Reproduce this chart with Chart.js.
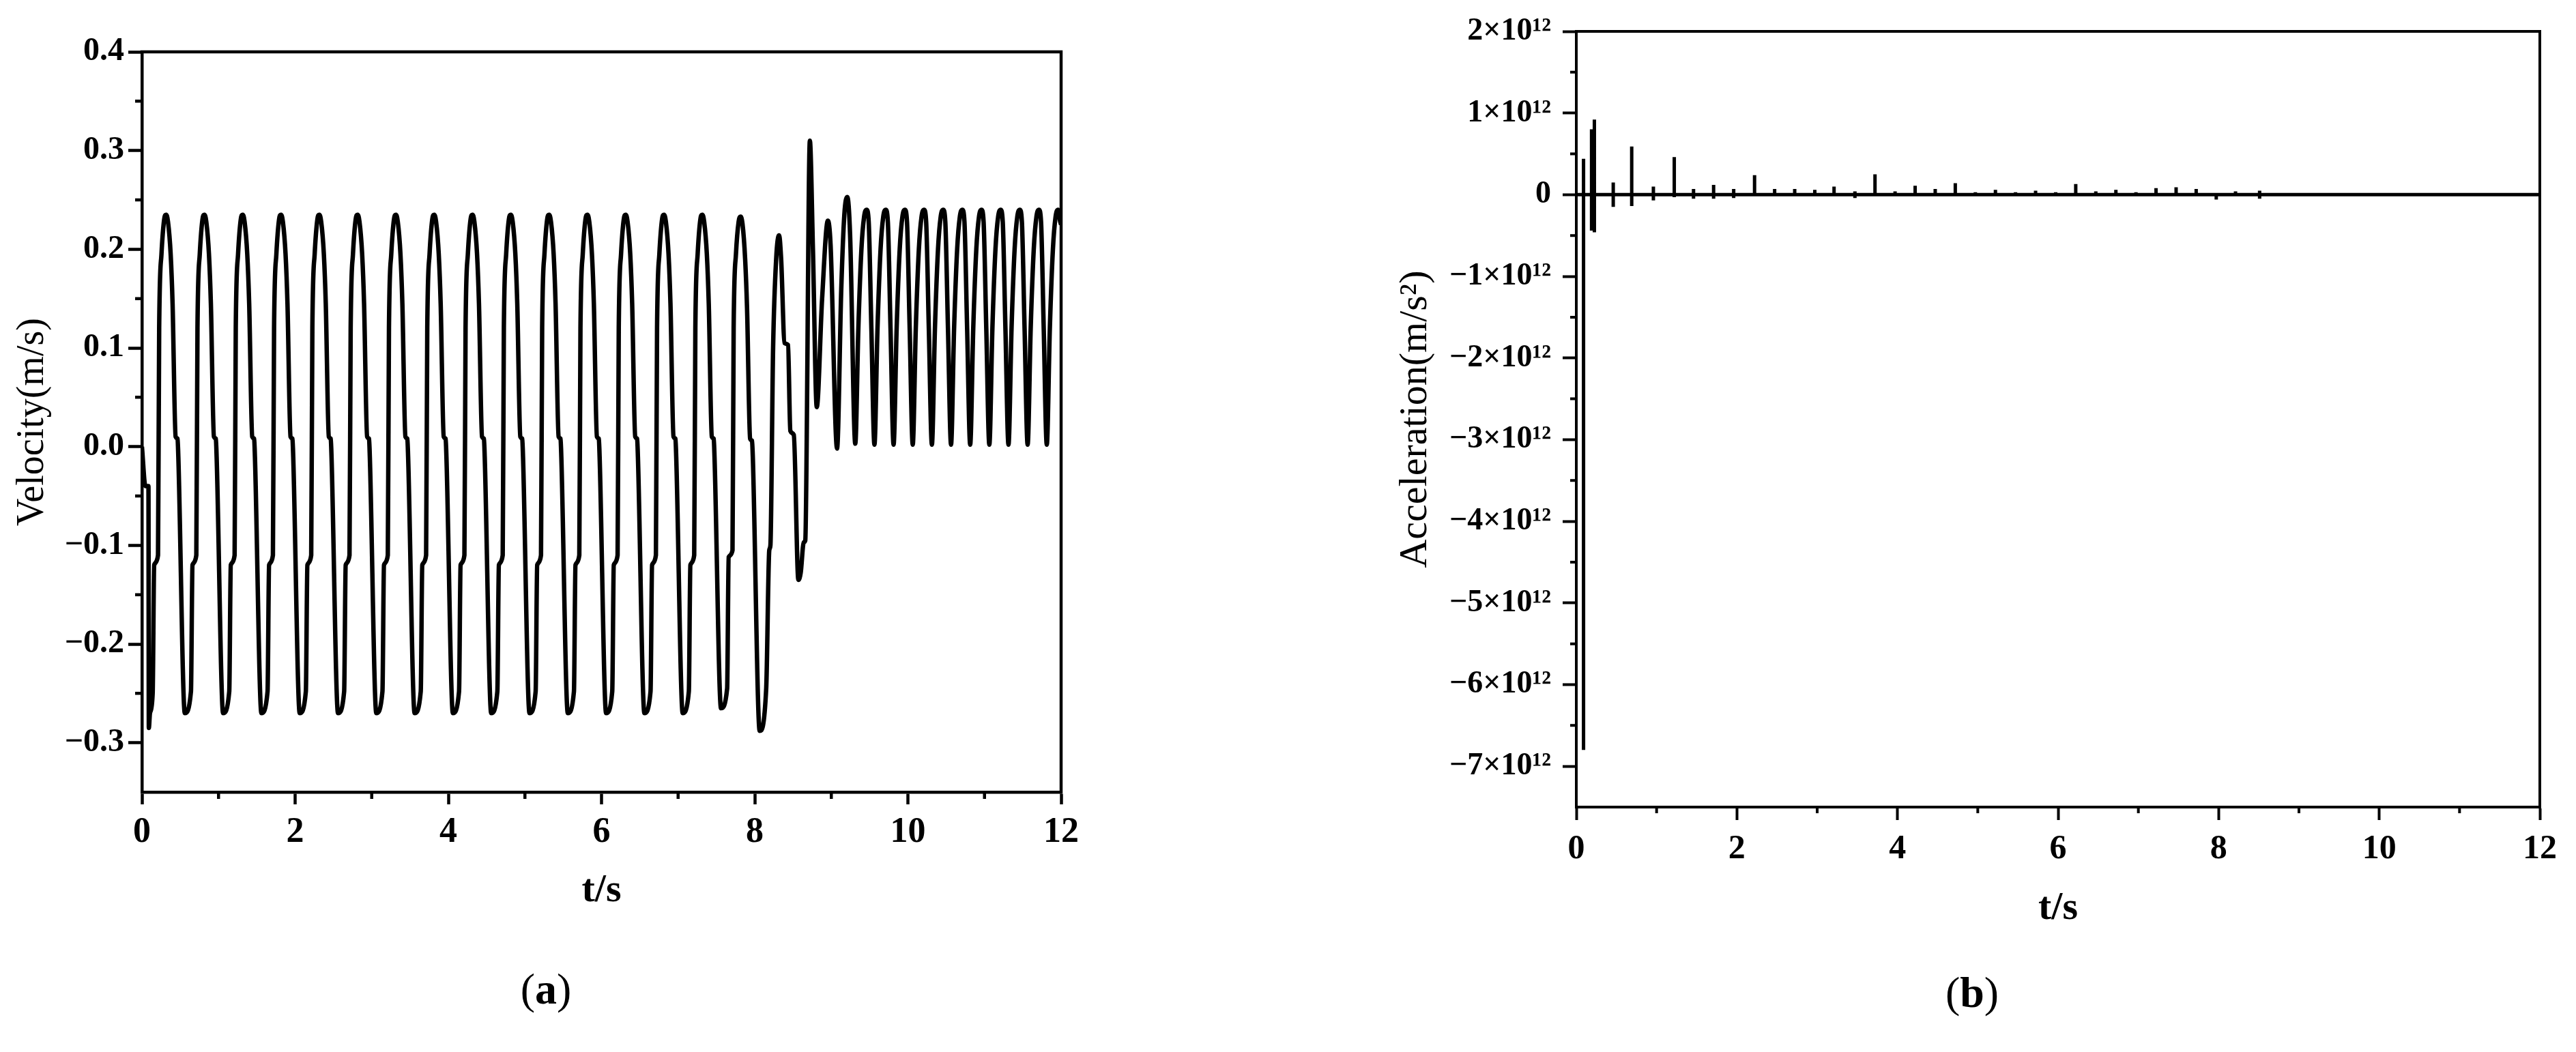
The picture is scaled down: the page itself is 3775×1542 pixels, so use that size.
<!DOCTYPE html>
<html>
<head>
<meta charset="utf-8">
<script src="https://cdn.jsdelivr.net/npm/chart.js@4.4.1/dist/chart.umd.min.js"></script>
<style>
  html, body { margin: 0; padding: 0; background: #fff; }
  body { width: 3775px; height: 1542px; position: relative; overflow: hidden; font-family: "Liberation Serif", "Times New Roman", serif; }
  canvas { position: absolute; top: 0; }
  #velChart { left: 0; width: 1700px; height: 1400px; }
  #accChart { left: 1900px; width: 1875px; height: 1400px; }
  .caption { position: absolute; font-size: 64px; line-height: 1; transform: translate(-50%, -50%); color: #000; }
</style>
</head>
<body>
<canvas id="velChart" width="1700" height="1400"></canvas>
<canvas id="accChart" width="1875" height="1400"></canvas>
<div class="caption" style="left:800px; top:1450px">(<b>a</b>)</div>
<div class="caption" style="left:2890px; top:1455px">(<b>b</b>)</div>
<script>
// (a) velocity, t in s, v in m/s (one line per cycle)
const velTime = [
  0, 0.045, 0.085, 0.09, 0.105, 0.14, 0.16, 0.21, 0.225, 0.255, 0.29, 0.315, 0.34, 0.375, 0.4, 0.44, 0.465, 0.475,
  0.56, 0.64, 0.66, 0.71, 0.725, 0.755, 0.79, 0.815, 0.84, 0.875, 0.9, 0.94, 0.965, 0.975,
  1.06, 1.14, 1.16, 1.21, 1.225, 1.255, 1.29, 1.315, 1.34, 1.375, 1.4, 1.44, 1.465, 1.475,
  1.56, 1.64, 1.66, 1.71, 1.725, 1.755, 1.79, 1.815, 1.84, 1.875, 1.9, 1.94, 1.965, 1.975,
  2.06, 2.14, 2.16, 2.21, 2.225, 2.255, 2.29, 2.315, 2.34, 2.375, 2.4, 2.44, 2.465, 2.475,
  2.56, 2.64, 2.66, 2.71, 2.725, 2.755, 2.79, 2.815, 2.84, 2.875, 2.9, 2.94, 2.965, 2.975,
  3.06, 3.14, 3.16, 3.21, 3.225, 3.255, 3.29, 3.315, 3.34, 3.375, 3.4, 3.44, 3.465, 3.475,
  3.56, 3.64, 3.66, 3.71, 3.725, 3.755, 3.79, 3.815, 3.84, 3.875, 3.9, 3.94, 3.965, 3.975,
  4.06, 4.14, 4.16, 4.21, 4.225, 4.255, 4.29, 4.315, 4.34, 4.375, 4.4, 4.44, 4.465, 4.475,
  4.56, 4.64, 4.66, 4.71, 4.725, 4.755, 4.79, 4.815, 4.84, 4.875, 4.9, 4.94, 4.965, 4.975,
  5.06, 5.14, 5.16, 5.21, 5.225, 5.255, 5.29, 5.315, 5.34, 5.375, 5.4, 5.44, 5.465, 5.475,
  5.56, 5.64, 5.66, 5.71, 5.725, 5.755, 5.79, 5.815, 5.84, 5.875, 5.9, 5.94, 5.965, 5.975,
  6.06, 6.14, 6.16, 6.21, 6.225, 6.255, 6.29, 6.315, 6.34, 6.375, 6.4, 6.44, 6.465, 6.475,
  6.56, 6.64, 6.66, 6.71, 6.725, 6.755, 6.79, 6.815, 6.84, 6.875, 6.9, 6.94, 6.965, 6.975,
  7.06, 7.14, 7.16, 7.21, 7.225, 7.255, 7.29, 7.315, 7.34, 7.375, 7.4, 7.44, 7.465, 7.475,
  7.56, 7.64, 7.66, 7.71, 7.725, 7.755, 7.79, 7.815, 7.84, 7.875, 7.9, 7.94, 7.965, 7.975,
  8.065, 8.15, 8.19, 8.205, 8.24, 8.28, 8.318, 8.345, 8.39, 8.435, 8.465, 8.51, 8.57, 8.6,
  8.64, 8.66, 8.72, 8.76, 8.81, 8.88, 8.955, 8.99, 9.075, 9.13, 9.17, 9.209, 9.245,
  9.313, 9.353, 9.393, 9.428, 9.461, 9.488, 9.523,
  9.563, 9.603, 9.643, 9.678, 9.711, 9.738, 9.773,
  9.813, 9.853, 9.893, 9.928, 9.961, 9.988, 10.023,
  10.063, 10.103, 10.143, 10.178, 10.211, 10.238, 10.273,
  10.313, 10.353, 10.393, 10.428, 10.461, 10.488, 10.523,
  10.563, 10.603, 10.643, 10.678, 10.711, 10.738, 10.773,
  10.813, 10.853, 10.893, 10.928, 10.961, 10.988, 11.023,
  11.063, 11.103, 11.143, 11.178, 11.211, 11.238, 11.273,
  11.313, 11.353, 11.393, 11.428, 11.461, 11.488, 11.523,
  11.563, 11.603, 11.643, 11.678, 11.711, 11.738, 11.773,
  11.813, 11.853, 11.893, 11.928, 11.961, 11.988, 12
];
const velValue = [
  0, -0.04, -0.04, -0.285, -0.27, -0.25, -0.12, -0.11, 0.12, 0.195, 0.23, 0.235, 0.228, 0.195, 0.145, 0.01, 0.008, -0.01,
  -0.27, -0.248, -0.12, -0.11, 0.12, 0.195, 0.23, 0.235, 0.228, 0.195, 0.145, 0.01, 0.008, -0.01,
  -0.27, -0.248, -0.12, -0.11, 0.12, 0.195, 0.23, 0.235, 0.228, 0.195, 0.145, 0.01, 0.008, -0.01,
  -0.27, -0.248, -0.12, -0.11, 0.12, 0.195, 0.23, 0.235, 0.228, 0.195, 0.145, 0.01, 0.008, -0.01,
  -0.27, -0.248, -0.12, -0.11, 0.12, 0.195, 0.23, 0.235, 0.228, 0.195, 0.145, 0.01, 0.008, -0.01,
  -0.27, -0.248, -0.12, -0.11, 0.12, 0.195, 0.23, 0.235, 0.228, 0.195, 0.145, 0.01, 0.008, -0.01,
  -0.27, -0.248, -0.12, -0.11, 0.12, 0.195, 0.23, 0.235, 0.228, 0.195, 0.145, 0.01, 0.008, -0.01,
  -0.27, -0.248, -0.12, -0.11, 0.12, 0.195, 0.23, 0.235, 0.228, 0.195, 0.145, 0.01, 0.008, -0.01,
  -0.27, -0.248, -0.12, -0.11, 0.12, 0.195, 0.23, 0.235, 0.228, 0.195, 0.145, 0.01, 0.008, -0.01,
  -0.27, -0.248, -0.12, -0.11, 0.12, 0.195, 0.23, 0.235, 0.228, 0.195, 0.145, 0.01, 0.008, -0.01,
  -0.27, -0.248, -0.12, -0.11, 0.12, 0.195, 0.23, 0.235, 0.228, 0.195, 0.145, 0.01, 0.008, -0.01,
  -0.27, -0.248, -0.12, -0.11, 0.12, 0.195, 0.23, 0.235, 0.228, 0.195, 0.145, 0.01, 0.008, -0.01,
  -0.27, -0.248, -0.12, -0.11, 0.12, 0.195, 0.23, 0.235, 0.228, 0.195, 0.145, 0.01, 0.008, -0.01,
  -0.27, -0.248, -0.12, -0.11, 0.12, 0.195, 0.23, 0.235, 0.228, 0.195, 0.145, 0.01, 0.008, -0.01,
  -0.27, -0.248, -0.12, -0.11, 0.12, 0.195, 0.23, 0.235, 0.228, 0.195, 0.145, 0.01, 0.008, -0.01,
  -0.265, -0.245, -0.112, -0.105, 0.12, 0.195, 0.228, 0.233, 0.226, 0.19, 0.14, 0.008, 0.006, -0.01,
  -0.288, -0.245, -0.105, -0.1, 0.1, 0.19, 0.214, 0.19, 0.105, 0.103, 0.016, 0.012, -0.135, -0.128,
  -0.097, -0.095, 0.31, 0.2, 0.04, 0.15, 0.229, 0.205, -0.002, 0.16, 0.235, 0.253, 0.215,
  0.003, 0.12, 0.2, 0.233, 0.24, 0.228, 0.12,
  0.002, 0.12, 0.2, 0.233, 0.24, 0.228, 0.12,
  0.002, 0.12, 0.2, 0.233, 0.24, 0.228, 0.12,
  0.002, 0.12, 0.2, 0.233, 0.24, 0.228, 0.12,
  0.002, 0.12, 0.2, 0.233, 0.24, 0.228, 0.12,
  0.002, 0.12, 0.2, 0.233, 0.24, 0.228, 0.12,
  0.002, 0.12, 0.2, 0.233, 0.24, 0.228, 0.12,
  0.002, 0.12, 0.2, 0.233, 0.24, 0.228, 0.12,
  0.002, 0.12, 0.2, 0.233, 0.24, 0.228, 0.12,
  0.002, 0.12, 0.2, 0.233, 0.24, 0.228, 0.12,
  0.002, 0.12, 0.2, 0.233, 0.24, 0.228, 0.225
];
const velTicksY = [-0.3, -0.2, -0.1, 0, 0.1, 0.2, 0.3, 0.4];
const velLabelsY = ['\u22120.3', '\u22120.2', '\u22120.1', '0.0', '0.1', '0.2', '0.3', '0.4'];
const velMinorY = [-0.25, -0.15, -0.05, 0.05, 0.15, 0.25, 0.35];

const timeTicks = [0, 2, 4, 6, 8, 10, 12];
const timeMinor = [1, 3, 5, 7, 9, 11];

// (b) acceleration spikes, values in units of 10^12 m/s^2
const spikeTime = [0.09, 0.19, 0.225, 0.46, 0.69, 0.96, 1.22, 1.46, 1.71, 1.96,
  2.22, 2.47, 2.72, 2.97, 3.21, 3.47, 3.72, 3.97, 4.22, 4.47, 4.72, 4.97,
  5.22, 5.47, 5.72, 5.97, 6.22, 6.47, 6.72, 6.97, 7.22, 7.47, 7.72, 7.97,
  8.21, 8.51, 8.75, 9.07];
const spikeUp = [0.44, 0.8, 0.92, 0.15, 0.59, 0.1, 0.46, 0.07, 0.12, 0.07,
  0.24, 0.07, 0.07, 0.06, 0.1, 0.04, 0.25, 0.04, 0.11, 0.07, 0.14, 0.03,
  0.06, 0.03, 0.05, 0.03, 0.13, 0.04, 0.06, 0.03, 0.08, 0.09, 0.07, 0.02,
  0.04, 0.05, 0.02, 0.02];
const spikeDown = [-6.8, -0.44, -0.46, -0.15, -0.14, -0.07, -0.03, -0.05, -0.05, -0.04,
  -0.02, -0.02, -0.02, -0.02, -0.02, -0.04, -0.02, -0.02, -0.02, -0.02, -0.02, -0.02,
  -0.02, -0.02, -0.02, -0.02, -0.02, -0.02, -0.02, -0.02, -0.02, -0.02, -0.02, -0.06,
  -0.02, -0.05, -0.02, -0.02];
const accTicksY = [-7, -6, -5, -4, -3, -2, -1, 0, 1, 2];
const accLabelsY = ['\u22127\u00d710\u00b9\u00b2', '\u22126\u00d710\u00b9\u00b2', '\u22125\u00d710\u00b9\u00b2',
  '\u22124\u00d710\u00b9\u00b2', '\u22123\u00d710\u00b9\u00b2', '\u22122\u00d710\u00b9\u00b2',
  '\u22121\u00d710\u00b9\u00b2', '0', '1\u00d710\u00b9\u00b2', '2\u00d710\u00b9\u00b2'];
const accMinorY = [-6.5, -5.5, -4.5, -3.5, -2.5, -1.5, -0.5, 0.5, 1.5];

Chart.defaults.font.family = '"Liberation Serif", "Times New Roman", serif';
Chart.defaults.color = '#000';

// box on top/right and the short minor ticks
const frameAndMinor = {
  id: 'frameAndMinor',
  afterDraw(chart, args, opts) {
    const { ctx, chartArea: a, scales } = chart;
    ctx.save();
    ctx.strokeStyle = '#000';
    ctx.lineCap = 'square';
    ctx.lineWidth = opts.frameWidth;
    ctx.beginPath();
    ctx.moveTo(a.left, a.top);
    ctx.lineTo(a.right, a.top);
    ctx.lineTo(a.right, a.bottom);
    ctx.stroke();
    ctx.lineCap = 'butt';
    ctx.lineWidth = opts.minorWidth;
    ctx.beginPath();
    opts.minorX.forEach(v => {
      const px = scales.x.getPixelForValue(v);
      ctx.moveTo(px, a.bottom);
      ctx.lineTo(px, a.bottom + opts.minorLenX);
    });
    opts.minorY.forEach(v => {
      const py = scales.y.getPixelForValue(v);
      ctx.moveTo(a.left, py);
      ctx.lineTo(a.left - opts.minorLenY, py);
    });
    ctx.stroke();
    ctx.restore();
  }
};

const velPoints = velTime.map((t, i) => ({ x: t, y: velValue[i] }));

const accPoints = [{ x: 0, y: 0 }];
spikeTime.forEach((t, i) => {
  accPoints.push({ x: t, y: 0 }, { x: t, y: spikeUp[i] }, { x: t, y: spikeDown[i] }, { x: t, y: 0 });
});
accPoints.push({ x: 12, y: 0 });

new Chart(document.getElementById('velChart'), {
  type: 'line',
  data: {
    datasets: [{
      data: velPoints,
      borderColor: '#000',
      borderWidth: 6.5,
      pointRadius: 0,
      cubicInterpolationMode: 'monotone',
      fill: false
    }]
  },
  options: {
    responsive: false,
    animation: false,
    devicePixelRatio: 1,
    layout: { padding: { top: 76, right: 145, left: 0, bottom: 0 } },
    plugins: {
      legend: { display: false },
      tooltip: { enabled: false },
      frameAndMinor: { frameWidth: 4.5, minorWidth: 4.5, minorX: timeMinor, minorY: velMinorY, minorLenX: 10, minorLenY: 10 }
    },
    scales: {
      x: {
        type: 'linear', min: 0, max: 12,
        afterBuildTicks: s => { s.ticks = timeTicks.map(v => ({ value: v })); },
        afterFit: s => { s.height = 239; },
        ticks: { autoSkip: false, maxRotation: 0, padding: 10, font: { size: 52, weight: 'bold' }, callback: v => String(v) },
        grid: { drawOnChartArea: false, tickLength: 18, tickWidth: 4.5, tickColor: '#000' },
        border: { color: '#000', width: 4.5 },
        title: { display: true, text: 't/s', font: { size: 58, weight: 'bold' }, padding: { top: 0, bottom: 59 } }
      },
      y: {
        type: 'linear', min: -0.35, max: 0.4,
        afterBuildTicks: s => { s.ticks = velTicksY.map(v => ({ value: v })); },
        afterFit: s => { s.width = 208; },
        ticks: { autoSkip: false, padding: 6, font: { size: 48, weight: 'bold' }, callback: (v, i) => velLabelsY[i] },
        grid: { drawOnChartArea: false, tickLength: 20, tickWidth: 4.5, tickColor: '#000' },
        border: { color: '#000', width: 4.5 },
        title: { display: true, text: 'Velocity(m/s)', font: { size: 56 }, padding: { top: 15, bottom: 0 } }
      }
    }
  },
  plugins: [frameAndMinor]
});

new Chart(document.getElementById('accChart'), {
  type: 'line',
  data: {
    datasets: [{
      data: accPoints,
      borderColor: '#000',
      borderWidth: 5,
      pointRadius: 0,
      tension: 0,
      fill: false
    }]
  },
  options: {
    responsive: false,
    animation: false,
    devicePixelRatio: 1,
    layout: { padding: { top: 46, right: 53, left: 0, bottom: 0 } },
    plugins: {
      legend: { display: false },
      tooltip: { enabled: false },
      frameAndMinor: { frameWidth: 4, minorWidth: 4, minorX: timeMinor, minorY: accMinorY, minorLenX: 9, minorLenY: 9 }
    },
    scales: {
      x: {
        type: 'linear', min: 0, max: 12,
        afterBuildTicks: s => { s.ticks = timeTicks.map(v => ({ value: v })); },
        afterFit: s => { s.height = 217; },
        ticks: { autoSkip: false, maxRotation: 0, padding: 13, font: { size: 50, weight: 'bold' }, callback: v => String(v) },
        grid: { drawOnChartArea: false, tickLength: 19, tickWidth: 4, tickColor: '#000' },
        border: { color: '#000', width: 4 },
        title: { display: true, text: 't/s', font: { size: 58, weight: 'bold' }, padding: { top: 0, bottom: 33 } }
      },
      y: {
        type: 'linear', min: -7.5, max: 2,
        afterBuildTicks: s => { s.ticks = accTicksY.map(v => ({ value: v })); },
        afterFit: s => { s.width = 410; },
        ticks: { autoSkip: false, padding: 17, font: { size: 46, weight: 'bold' }, callback: (v, i) => accLabelsY[i] },
        grid: { drawOnChartArea: false, tickLength: 20, tickWidth: 4, tickColor: '#000' },
        border: { color: '#000', width: 4 },
        title: { display: true, text: 'Acceleration(m/s\u00b2)', font: { size: 58 }, padding: { top: 140, bottom: 0 } }
      }
    }
  },
  plugins: [frameAndMinor]
});
</script>
</body>
</html>
